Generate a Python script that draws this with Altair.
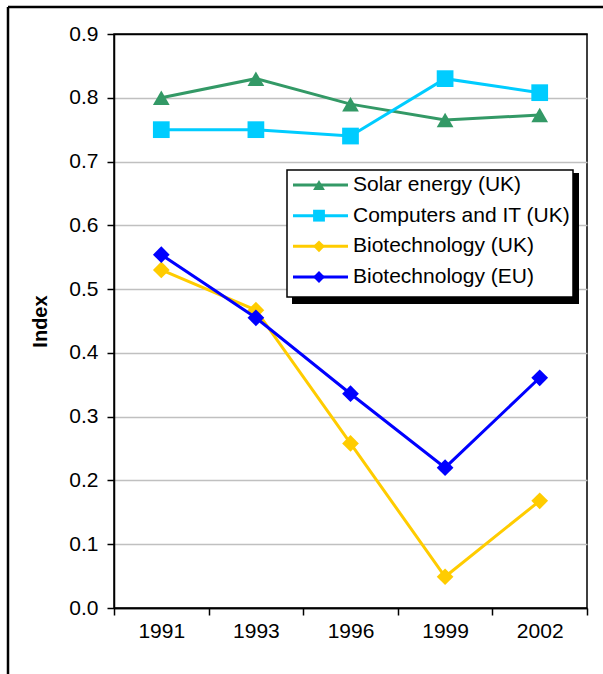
import altair as alt
import pandas as pd

years = ["1991", "1993", "1996", "1999", "2002"]
series = ["Solar energy (UK)", "Computers and IT (UK)", "Biotechnology (UK)", "Biotechnology (EU)"]
solar_uk = [0.80, 0.83, 0.79, 0.765, 0.773]
computers_uk = [0.75, 0.75, 0.74, 0.83, 0.808]
biotech_uk = [0.53, 0.467, 0.258, 0.049, 0.168]
biotech_eu = [0.554, 0.455, 0.336, 0.22, 0.361]
colors = ["#339966", "#00CCFF", "#FFCC00", "#0000FF"]
shapes = ["triangle-up", "square", "diamond", "diamond"]
y_ticks = [0.0, 0.1, 0.2, 0.3, 0.4, 0.5, 0.6, 0.7, 0.8, 0.9]

rows = []
for s, vals in zip(series, [solar_uk, computers_uk, biotech_uk, biotech_eu]):
    for yr, v in zip(years, vals):
        rows.append({"series": s, "year": yr, "value": v})
df = pd.DataFrame(rows)
legend_df = pd.DataFrame({"series": series, "idx": list(range(len(series)))})
one = pd.DataFrame({"a": [0]})

FONT = "Liberation Sans"
FS = 21
W, H = 473, 574

color_scale = alt.Scale(domain=series, range=colors)
shape_scale = alt.Scale(domain=series, range=shapes)

x_enc = alt.X(
    "year:N", sort=years,
    scale=alt.Scale(type="band", paddingInner=0, paddingOuter=0),
    axis=alt.Axis(title=None, labelAngle=0, tickBand="extent", grid=False,
                  labelPadding=5),
)
y_enc = alt.Y(
    "value:Q",
    scale=alt.Scale(domain=[0, 0.9], nice=False, zero=True),
    axis=alt.Axis(title="Index", values=y_ticks, format=".1f", grid=True,
                  labelPadding=9, titlePadding=18,
                  gridColor={"condition": {"test": "datum.value >= 0.85 || datum.value <= 0.05", "value": "black"},
                             "value": "#C0C0C0"}),
)

layers = []
for s in series:
    base = alt.Chart(df).transform_filter(alt.datum.series == s)
    layers.append(base.mark_line(strokeWidth=3).encode(
        x=x_enc, y=y_enc,
        color=alt.Color("series:N", scale=color_scale, legend=None)))
    layers.append(base.mark_point(filled=True, opacity=1, size=280).encode(
        x=x_enc, y=y_enc,
        color=alt.Color("series:N", scale=color_scale, legend=None),
        shape=alt.Shape("series:N", scale=shape_scale, legend=None)))
main = alt.layer(*layers)

leg_y = alt.Y("idx:Q", scale=alt.Scale(domain=[0, 3], range=[151, 243]), axis=None)
shadow = alt.Chart(one).mark_rect(color="black").encode(
    x=alt.value(178), x2=alt.value(465), y=alt.value(139), y2=alt.value(270))
box = alt.Chart(one).mark_rect(fill="white", stroke="black", strokeWidth=1.5).encode(
    x=alt.value(173), x2=alt.value(459), y=alt.value(136), y2=alt.value(263))
leg_rule = alt.Chart(legend_df).mark_rule(strokeWidth=3).encode(
    x=alt.value(179), x2=alt.value(234), y=leg_y,
    color=alt.Color("series:N", scale=color_scale, legend=None))
leg_pt = alt.Chart(legend_df).mark_point(filled=True, opacity=1, size=140).encode(
    x=alt.value(205), y=leg_y,
    color=alt.Color("series:N", scale=color_scale, legend=None),
    shape=alt.Shape("series:N", scale=shape_scale, legend=None))
leg_txt = alt.Chart(legend_df).mark_text(align="left", baseline="middle", fontSize=FS,
                                         font=FONT, color="black").encode(
    x=alt.value(239), y=leg_y, text="series:N")
legend = alt.layer(leg_rule, leg_pt, leg_txt)

frame_top = alt.Chart(one).mark_rule(color="black", strokeWidth=2.5).encode(
    x=alt.value(-106), x2=alt.value(495), y=alt.value(-27))
frame_left = alt.Chart(one).mark_rule(color="black", strokeWidth=2.5).encode(
    x=alt.value(-106), y=alt.value(-27), y2=alt.value(645))

chart = alt.layer(main, shadow, box, legend, frame_top, frame_left).resolve_scale(
    y="independent"
).properties(
    width=W, height=H, autosize="none", background="white",
    padding={"left": 114, "top": 34, "right": 16, "bottom": 66},
).configure_view(
    stroke="black", strokeWidth=1.5
).configure_axis(
    labelFont=FONT, labelFontSize=FS, labelColor="black",
    titleFont=FONT, titleFontSize=20, titleFontWeight="bold", titleColor="black",
    tickColor="black", tickSize=7, tickWidth=1.5,
    domainColor="black", domainWidth=1.5, gridWidth=1.5,
)

chart.save("out.html", embed_options={"renderer": "svg", "actions": False})
